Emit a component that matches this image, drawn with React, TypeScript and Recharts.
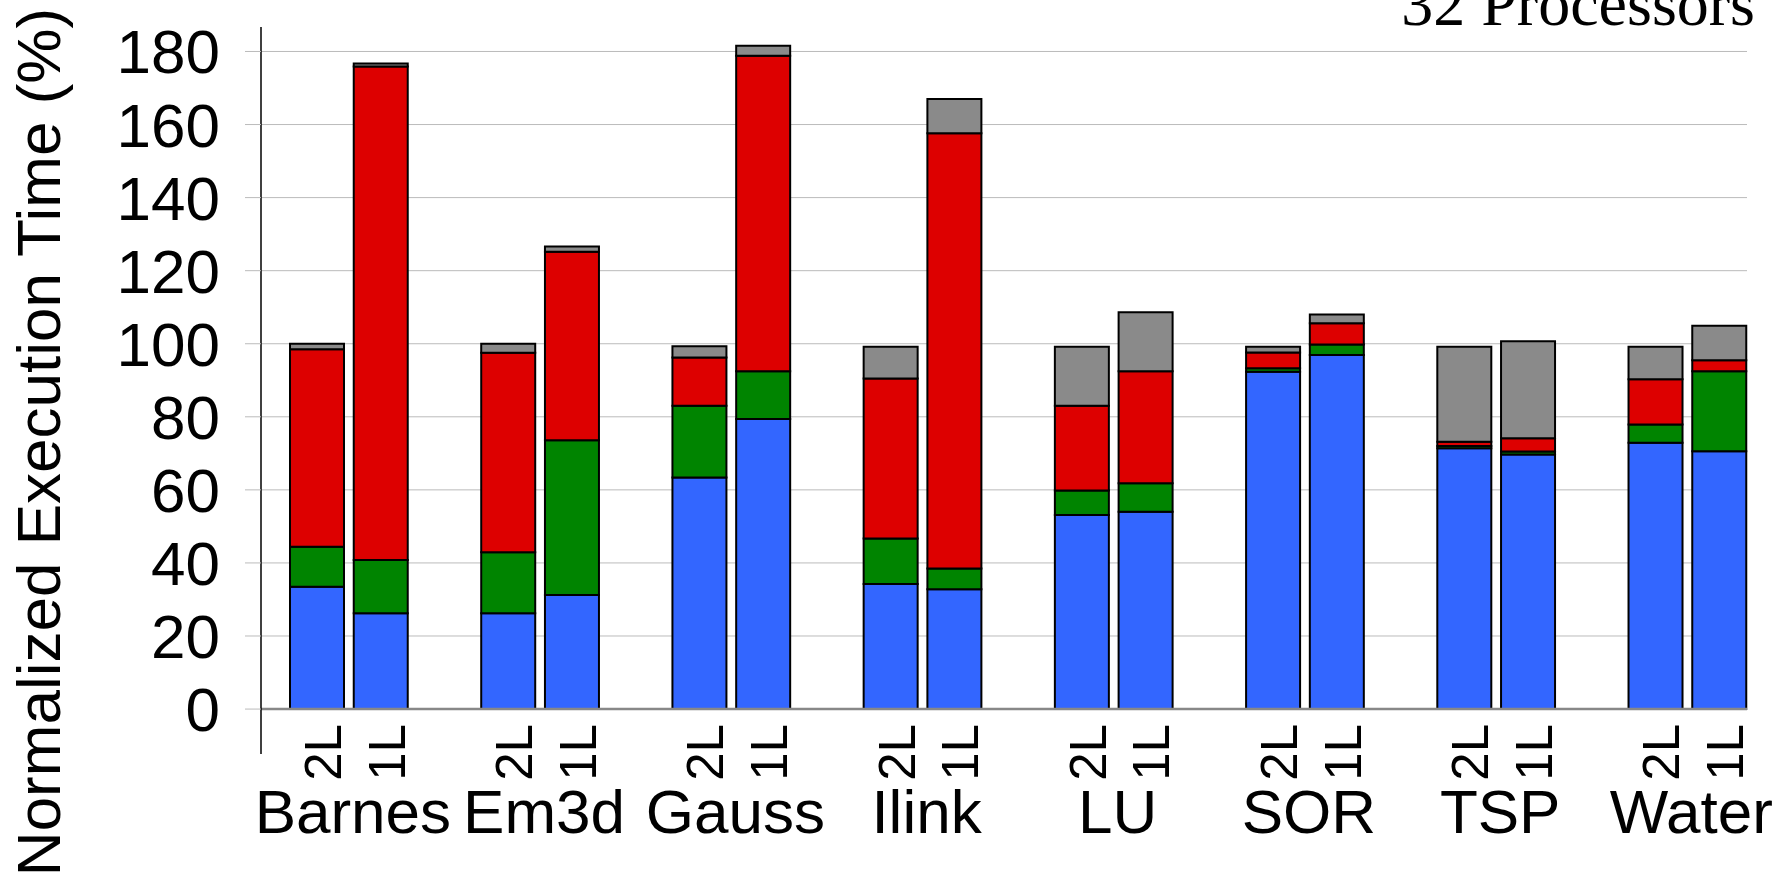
import React from 'react';
import {
  BarChart,
  Bar,
  XAxis,
  YAxis,
  CartesianGrid,
  ReferenceLine,
} from 'recharts';

const benchmarks = ['Barnes', 'Em3d', 'Gauss', 'Ilink', 'LU', 'SOR', 'TSP', 'Water'];
const configs = ['2L', '1L'];

// stacked components, bottom to top (values in % of 2L time)
const busy2L = [33.5, 26.2, 63.4, 34.2, 53.1, 92.3, 71.4, 72.9];
const sync2L = [10.9, 16.7, 19.6, 12.5, 6.7, 1.0, 0.6, 5.0];
const data2L = [54.1, 54.6, 13.2, 43.8, 23.2, 4.3, 1.2, 12.4];
const other2L = [1.5, 2.5, 3.1, 8.7, 16.2, 1.6, 26.0, 8.9];

const busy1L = [26.2, 31.2, 79.4, 32.8, 54.0, 96.9, 69.7, 70.6];
const sync1L = [14.6, 42.4, 13.1, 5.7, 7.8, 2.9, 0.8, 21.9];
const data1L = [135.1, 51.6, 86.3, 119.1, 30.7, 5.8, 3.6, 3.0];
const other1L = [0.8, 1.4, 2.8, 9.4, 16.1, 2.4, 26.6, 9.4];

const yTicks = [0, 20, 40, 60, 80, 100, 120, 140, 160, 180];

const SANS = '"Liberation Sans", Arial, Helvetica, sans-serif';
const SERIF = '"Liberation Serif", "Times New Roman", serif';

// one slot per bar, plus an empty slot between benchmarks
const rows: any[] = [];
benchmarks.forEach((b, i) => {
  rows.push({ slot: `${b}|2L`, busy: busy2L[i], sync: sync2L[i], data: data2L[i], other: other2L[i] });
  rows.push({ slot: `${b}|1L`, busy: busy1L[i], sync: sync1L[i], data: data1L[i], other: other1L[i] });
  if (i < benchmarks.length - 1) rows.push({ slot: `${b}|` });
});

function SlotTick(props: any) {
  const { x, y, payload } = props;
  const [bench, cfg] = String(payload.value).split('|');
  if (!configs.includes(cfg)) return <g />;
  const bx = x + 24;
  const by = y - 30;
  return (
    <g>
      <text
        x={bx}
        y={by}
        transform={`rotate(-90, ${bx}, ${by})`}
        textAnchor="end"
        fontSize={51}
        fontFamily={SANS}
        fill="#000"
      >
        {cfg}
      </text>
      {cfg === '2L' && (
        <text x={x + 36} y={y + 79} textAnchor="middle" fontSize={62} fontFamily={SANS} fill="#000">
          {bench}
        </text>
      )}
    </g>
  );
}

function YTitle() {
  return (
    <text
      x={60}
      y={442}
      transform="rotate(-90, 60, 442)"
      textAnchor="middle"
      fontSize={62}
      fontFamily={SANS}
      fill="#000"
    >
      Normalized Execution Time (%)
    </text>
  );
}

export default function App() {
  return (
    <div style={{ position: 'absolute', left: 0, top: 0, width: 1792, height: 879, background: '#fff' }}>
      <BarChart
        width={1792}
        height={879}
        data={rows}
        margin={{ top: 27, right: 45, bottom: 0, left: 0 }}
      >
        <CartesianGrid horizontal vertical={false} stroke="#bbb" horizontalValues={yTicks} />
        <XAxis
          dataKey="slot"
          height={125}
          interval={0}
          axisLine={false}
          tickLine={false}
          tickSize={0}
          tickMargin={0}
          padding={{ left: 24, right: -4 }}
          tick={<SlotTick />}
        />
        <YAxis
          width={261}
          domain={[-12.3, 186.7]}
          ticks={yTicks}
          interval={0}
          allowDataOverflow
          axisLine={{ stroke: '#000', strokeWidth: 1.5 }}
          tickLine={{ stroke: '#bbb' }}
          tickSize={16}
          tickMargin={25}
          tick={{ fill: '#000', fontSize: 62, fontFamily: SANS }}
          label={<YTitle />}
        />
        <ReferenceLine y={0} stroke="#888" strokeWidth={2.5} />
        <Bar dataKey="busy" stackId="t" fill="#3366ff" stroke="#000" strokeWidth={2} barSize={54} isAnimationActive={false} />
        <Bar dataKey="sync" stackId="t" fill="#008400" stroke="#000" strokeWidth={2} barSize={54} isAnimationActive={false} />
        <Bar dataKey="data" stackId="t" fill="#dd0000" stroke="#000" strokeWidth={2} barSize={54} isAnimationActive={false} />
        <Bar dataKey="other" stackId="t" fill="#8a8a8a" stroke="#000" strokeWidth={2} barSize={54} isAnimationActive={false} />
        <text x={1755} y={25} textAnchor="end" fontSize={64} fontFamily={SERIF} fill="#000">
          32 Processors
        </text>
      </BarChart>
    </div>
  );
}
